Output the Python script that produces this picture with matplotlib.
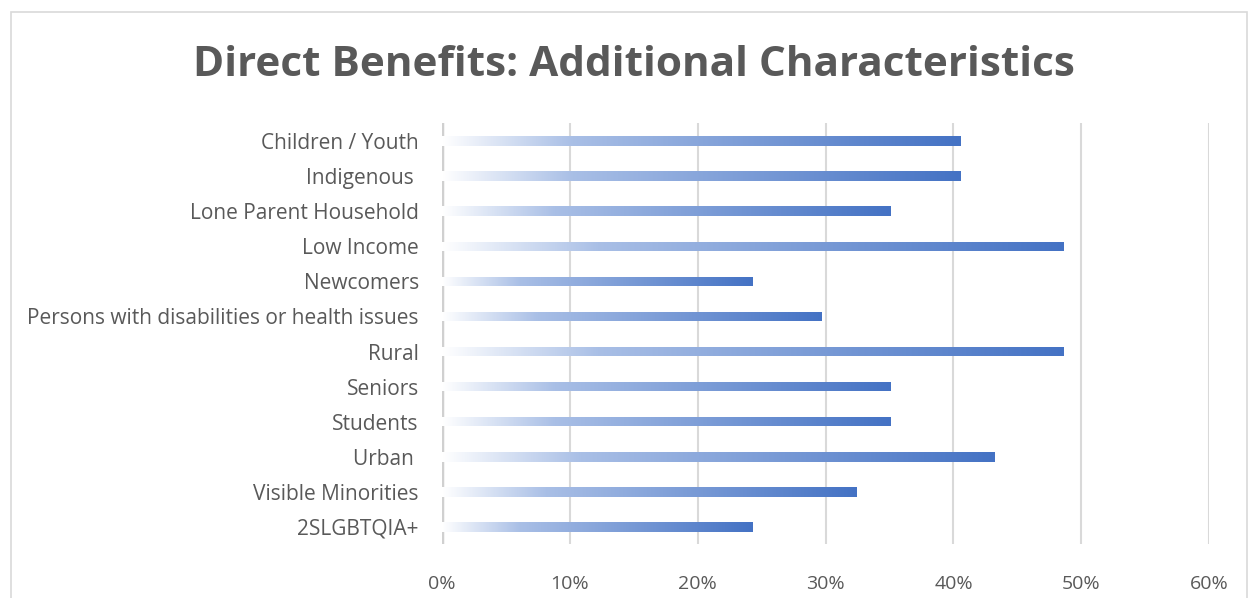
import matplotlib.pyplot as plt
import numpy as np
from matplotlib.colors import LinearSegmentedColormap
from matplotlib.patches import Rectangle

# Data
categories = ['Children / Youth', 'Indigenous ', 'Lone Parent Household', 'Low Income',
              'Newcomers', 'Persons with disabilities or health issues', 'Rural',
              'Seniors', 'Students', 'Urban ', 'Visible Minorities', '2SLGBTQIA+']
values = [40.5, 40.5, 35.1, 48.6, 24.3, 29.7, 48.6, 35.1, 35.1, 43.2, 32.4, 24.3]
xticks = [0, 10, 20, 30, 40, 50, 60]

plt.rcParams['font.family'] = ['Open Sans', 'DejaVu Sans']
grey = '#595959'

fig = plt.figure(figsize=(12.48, 5.98), dpi=100)
ax = fig.add_axes([0.354, 0.0895, 0.615, 0.704])

# gradient white -> blue, like the Excel fill
cmap = LinearSegmentedColormap.from_list(
    'fill', [(0, '#ffffff'), (0.25, '#a9bfe6'), (1, '#4472c4')])
grad = np.linspace(0, 1, 256).reshape(1, -1)

y = np.arange(len(categories))
bars = ax.barh(y, values, height=0.27, color='none', edgecolor='none', zorder=3)
for bar in bars:
    x0, y0 = bar.get_x(), bar.get_y()
    w, h = bar.get_width(), bar.get_height()
    im = ax.imshow(grad, cmap=cmap, aspect='auto', extent=(x0, x0 + w, y0, y0 + h),
                   zorder=3, interpolation='bilinear')
    im.set_clip_path(bar)

ax.set_xlim(0, 60)
ax.set_ylim(len(categories) - 0.5, -0.5)
ax.set_yticks(y)
ax.set_yticklabels(categories, fontsize=15, color=grey)
ax.set_xticks(xticks)
ax.set_xticklabels([f'{t}%' for t in xticks], fontsize=14, color=grey)
ax.tick_params(length=0, pad=16.5)
ax.tick_params(axis='x', pad=22)

for t in xticks[1:]:
    ax.axvline(t, color='#d9d9d9', lw=1.5, zorder=1)
ax.axvline(0, color='#d0d0d0', lw=2.5, zorder=1)
for s in ax.spines.values():
    s.set_visible(False)

fig.text(0.508, 0.89, 'Direct Benefits: Additional Characteristics', ha='center',
         va='center', fontsize=30.4, fontweight='bold', color=grey)

# chart border
fig.patches.append(Rectangle((0.009, -0.01), 0.99, 0.99, transform=fig.transFigure,
                             fill=False, edgecolor='#d9d9d9', lw=1.2))

plt.savefig('out.png', dpi=100)
